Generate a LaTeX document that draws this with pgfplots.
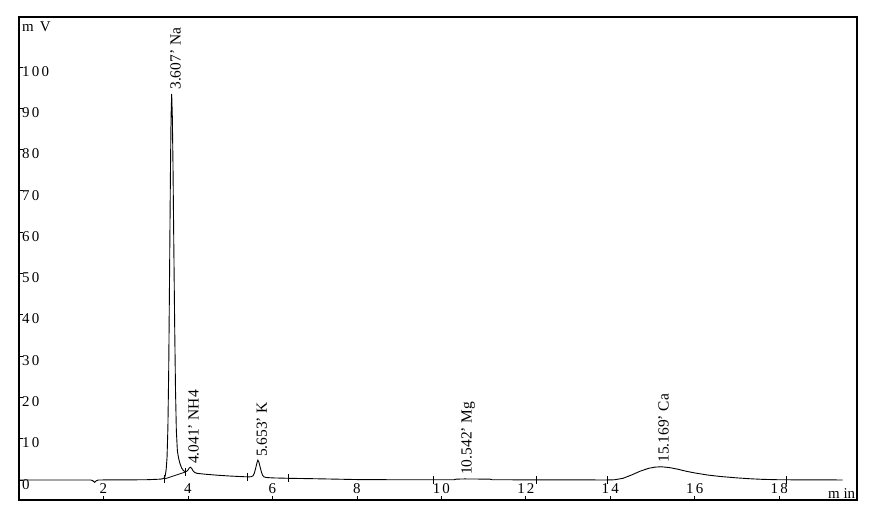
\documentclass[border=0pt]{standalone}
\usepackage{pgfplots}
\pgfplotsset{compat=1.18}
\usepackage{fontspec}
\setmainfont{Liberation Serif}
\newfontfamily\tickfont[LetterSpace=15]{Liberation Serif}
\begin{document}
\begin{tikzpicture}
\begin{axis}[
 scale only axis, width=838bp, height=483bp,
 xmin=0, xmax=19.84, ymin=-4.85, ymax=112.1,
 axis line style={line width=1.5bp},
 tick align=inside, xtick pos=bottom, ytick pos=left,
 major tick length=4bp,
 tick style={black, line width=0.8bp},
 xtick={2,4,6,8,10,12,14,16,18},
 xticklabels={2,4,6,8,10,12,14,16,18},
 ytick={0,10,20,30,40,50,60,70,80,90,100},
 yticklabels={0,10,20,30,40,50,60,70,80,90,100},
 tick label style={font=\tickfont\fontsize{15}{17}\selectfont},
 xticklabel style={anchor=south, yshift=6bp, inner sep=0pt},
 yticklabel style={anchor=north west, xshift=3bp, yshift=1bp, inner sep=0pt},
]
% chromatogram trace
\addplot[black, line width=0.9bp] coordinates {
(0,0) (1.70,0) (1.75,-0.2) (1.79,-0.6) (1.83,-0.2) (1.88,0) (3.0,0.05) (3.35,0.2) (3.40,0.3)
(3.445,0.5) (3.465,1.2) (3.485,2.6) (3.505,5.5) (3.525,12.5) (3.545,27) (3.565,50) (3.585,74) (3.60,88) (3.615,93.5)
(3.63,88) (3.645,77) (3.665,57) (3.685,38) (3.705,22) (3.725,12) (3.75,7) (3.78,5.2) (3.81,4.0) (3.85,2.9) (3.89,2.3) (3.93,2.0) (3.97,2.1)
(4.00,2.4) (4.03,2.9) (4.06,3.1) (4.09,2.8) (4.12,2.2) (4.16,1.8) (4.22,1.6) (4.4,1.4) (4.7,1.15) (5.0,0.95) (5.3,0.8) (5.45,0.75)
(5.50,0.8) (5.54,1.0) (5.57,1.6) (5.60,2.7) (5.63,4.0) (5.655,4.8) (5.68,4.3) (5.71,3.1) (5.74,1.9) (5.77,1.1) (5.80,0.75) (5.85,0.6)
(6.0,0.5) (6.4,0.4) (7.0,0.3) (7.5,0.2) (8.0,0.1) (9.0,0.05) (10.3,0.05) (10.35,0.2) (10.55,0.25) (11.15,0.2) (11.2,0.05) (13.9,0.0)
(14.1,0.05) (14.3,0.4) (14.5,1.2) (14.7,2.1) (14.9,2.8) (15.05,3.1) (15.2,3.2) (15.4,3.0) (15.6,2.6) (15.8,2.1) (16.0,1.7) (16.3,1.2)
(16.6,0.85) (17.0,0.5) (17.3,0.3) (17.6,0.15) (18.0,0.05) (19.5,0.0)
};
% integration baseline under Na
\addplot[black, line width=0.8bp] coordinates {(3.445,0.25) (3.93,1.9)};
% integration markers
\addplot[only marks, mark=|, mark size=4bp, mark options={line width=0.8bp}] coordinates {
(3.445,0.25) (3.93,1.9) (5.40,0.8) (6.37,0.4) (9.80,0.05) (12.24,0) (13.92,0) (18.18,0)
};
% peak labels
\begin{scope}[every node/.style={rotate=90, anchor=west, inner sep=0pt, font=\fontsize{15.5}{17}\selectfont}]
\node at ([xshift=4bp, yshift=4bp]axis cs:3.615,93.5) {3.607' Na};
\node at ([xshift=4bp, yshift=3bp]axis cs:4.041,3.1) {4.041' NH4};
\node at ([xshift=4bp, yshift=3bp]axis cs:5.653,4.8) {5.653' K};
\node at ([xshift=4bp, yshift=4bp]axis cs:10.542,0.25) {10.542' Mg};
\node at ([xshift=4bp, yshift=4bp]axis cs:15.169,3.2) {15.169' Ca};
\end{scope}
\end{axis}
\node[anchor=north west, inner sep=0pt, font=\tickfont\fontsize{15}{17}\selectfont] at ([xshift=3bp,yshift=-5bp]current axis.north west) {m V};
\node[anchor=base west, inner sep=0pt, font=\fontsize{15}{17}\selectfont] at ([xshift=-29bp,yshift=1.5bp]current axis.south east) {m in};
\pgfresetboundingbox
\path ([shift={(-19bp,-20bp)}]current axis.south west) rectangle ([shift={(18bp,17bp)}]current axis.north east);
\end{tikzpicture}
\end{document}
